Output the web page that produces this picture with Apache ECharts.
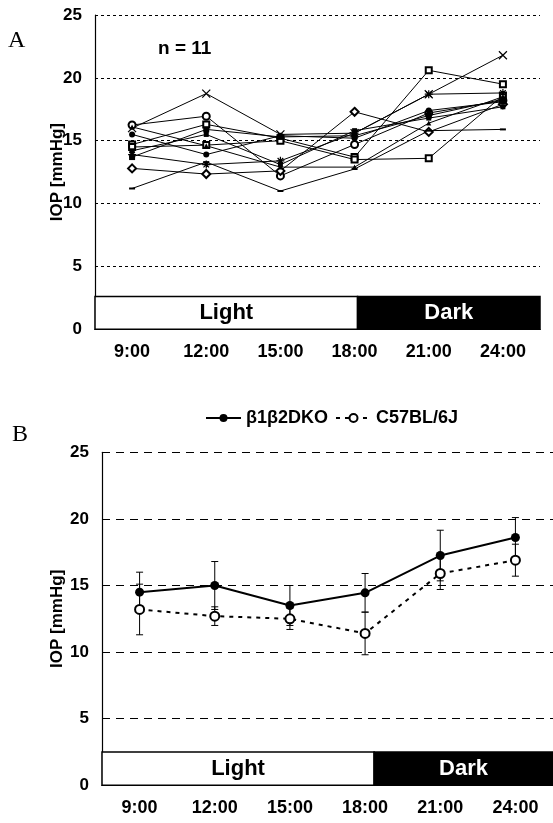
<!DOCTYPE html>
<html>
<head>
<meta charset="utf-8">
<script src="https://cdn.jsdelivr.net/npm/echarts@6/dist/echarts.min.js"></script>
<style>
  html, body { margin: 0; padding: 0; background: #fff; }
  #chart { width: 553px; height: 823px; }
</style>
</head>
<body>
<div id="chart"></div>
<script>
// time points (x categories)
const times = ['9:00', '12:00', '15:00', '18:00', '21:00', '24:00']

// panel A: individual eyes, n = 11 (IOP, mmHg)
const eyeCross = [16.0, 18.75, 15.5, 15.6, 18.7, 21.8]
const eyeCircle = [16.25, 16.95, 12.2, 14.7, 17.2, 18.2]
const eyeSquareA = [14.7, 16.3, 15.2, 13.7, 20.6, 19.5]
const eyeSquareB = [14.5, 14.65, 15.0, 13.5, 13.6, 18.6]
const eyeDiamond = [12.8, 12.35, 12.6, 17.3, 15.7, 17.9]
const eyeDash = [11.2, 13.3, 11.0, 12.75, 15.8, 15.9]
const eyeStar = [13.9, 13.1, 13.4, 15.6, 18.7, 18.8]
const eyeBlockA = [13.7, 15.9, 15.3, 15.4, 17.0, 18.3]
const eyeDot = [15.5, 13.9, 15.4, 15.2, 17.4, 18.1]
const eyeBlockB = [14.2, 15.5, 13.1, 15.8, 16.8, 17.7]
const eyeTriangle = [16.1, 14.6, 12.9, 12.9, 16.4, 18.5]

// panel B: mean and SD
const dkoMean = [14.5, 15.0, 13.5, 14.45, 17.25, 18.6]
const dkoSd = [1.5, 1.8, 1.5, 1.45, 1.9, 1.5]
const c57Mean = [13.2, 12.7, 12.5, 11.4, 15.9, 16.9]
const c57Sd = [1.9, 0.7, 0.8, 1.6, 1.2, 1.2]

// light / dark phase bars: [from, to, top] in category units
const phaseNames = ['Light', 'Dark']
const phasesA = [[-0.5, 3.04, 2.6], [3.04, 5.5, 2.6]]
const phasesB = [[-0.5, 3.12, 2.5], [3.12, 5.5, 2.5]]

const FONT = '"Liberation Sans", Arial, sans-serif'

const chart = echarts.init(document.getElementById('chart'))

// symbols
const crossPath = 'path://M0,0L10,10M10,0L0,10'
const starPath = 'path://M0,5L10,5M5,0L5,10M1.5,1.5L8.5,8.5M8.5,1.5L1.5,8.5'

const eyeSeries = [
  { data: eyeCross, symbol: crossPath, size: 8, stroke: true },
  { data: eyeCircle, symbol: 'emptyCircle', size: 7 },
  { data: eyeSquareA, symbol: 'emptyRect', size: 6 },
  { data: eyeSquareB, symbol: 'emptyRect', size: 6 },
  { data: eyeDiamond, symbol: 'emptyDiamond', size: 8 },
  { data: eyeDash, symbol: 'rect', size: [6, 2] },
  { data: eyeStar, symbol: starPath, size: 8, stroke: true },
  { data: eyeBlockA, symbol: 'rect', size: 6 },
  { data: eyeDot, symbol: 'circle', size: 6 },
  { data: eyeBlockB, symbol: 'rect', size: 5 },
  { data: eyeTriangle, symbol: 'triangle', size: 5 },
].map((e, i) => ({
  name: 'eye' + (i + 1),
  type: 'line',
  xAxisIndex: 0,
  yAxisIndex: 0,
  data: e.data,
  symbol: e.symbol,
  symbolSize: e.size,
  showAllSymbol: true,
  silent: true,
  z: 3,
  lineStyle: { color: '#000', width: 1 },
  itemStyle: e.stroke
    ? { color: '#000', borderColor: '#000', borderWidth: 1.2 }
    : { color: '#000' },
}))

// Light/Dark bar
const phaseRender = (params, api) => {
  const p0 = api.coord([api.value(0), api.value(2)])
  const p1 = api.coord([api.value(1), 0])
  const dark = params.dataIndex === 1
  return {
    type: 'group',
    children: [
      {
        type: 'rect',
        shape: { x: p0[0], y: p0[1], width: p1[0] - p0[0], height: p1[1] - p0[1] },
        style: { fill: dark ? '#000' : '#fff', stroke: '#000', lineWidth: 1.5 },
      },
      {
        type: 'text',
        style: {
          text: phaseNames[params.dataIndex],
          x: (p0[0] + p1[0]) / 2,
          y: (p0[1] + p1[1]) / 2,
          align: 'center',
          verticalAlign: 'middle',
          fill: dark ? '#fff' : '#000',
          font: 'bold 22px ' + FONT,
        },
      },
    ],
  }
}

// error bars
const errRender = (params, api) => {
  const lo = api.coord([api.value(0), api.value(1)])
  const hi = api.coord([api.value(0), api.value(2)])
  const w = 3.5
  const st = { stroke: '#000', lineWidth: 1 }
  return {
    type: 'group',
    children: [
      { type: 'line', shape: { x1: lo[0], y1: lo[1], x2: hi[0], y2: hi[1] }, style: st },
      { type: 'line', shape: { x1: lo[0] - w, y1: lo[1], x2: lo[0] + w, y2: lo[1] }, style: st },
      { type: 'line', shape: { x1: hi[0] - w, y1: hi[1], x2: hi[0] + w, y2: hi[1] }, style: st },
    ],
  }
}
const errData = (mean, sd) => mean.map((m, i) => [i, m - sd[i], m + sd[i]])

const yAxisBase = (gridIndex, dash, nameGap) => ({
  type: 'value',
  gridIndex,
  min: 0,
  max: 25,
  interval: 5,
  name: 'IOP [mmHg]',
  nameLocation: 'middle',
  nameRotate: 90,
  nameGap,
  nameMoveOverlap: false,
  nameTextStyle: { color: '#000', fontFamily: FONT, fontWeight: 'bold', fontSize: 17 },
  axisLine: { show: true, onZero: false, lineStyle: { color: '#000', width: 1.2 } },
  axisTick: { show: false },
  axisLabel: { color: '#000', fontFamily: FONT, fontWeight: 'bold', fontSize: 17, margin: 13 },
  splitLine: { show: true, lineStyle: { color: '#000', width: 1, type: dash } },
})

const xCatBase = (gridIndex) => ({
  type: 'category',
  gridIndex,
  data: times,
  boundaryGap: true,
  axisLine: { show: true, onZero: false, lineStyle: { color: '#000', width: 1.2 } },
  axisTick: { show: false },
  axisLabel: { color: '#000', fontFamily: FONT, fontWeight: 'bold', fontSize: 18, margin: 14 },
  splitLine: { show: false },
})

const xValBase = (gridIndex) => ({
  type: 'value',
  gridIndex,
  min: -0.5,
  max: 5.5,
  show: false,
  splitLine: { show: false },
})

const options = {
  animation: false,
  backgroundColor: '#fff',
  grid: [
    { left: 95, top: 15, width: 445, height: 314.3 },
    { left: 102, top: 452.3, width: 458, height: 333 },
  ],
  xAxis: [xCatBase(0), xValBase(0), xCatBase(1), xValBase(1)],
  yAxis: [yAxisBase(0, [3, 3], 29), yAxisBase(1, [8, 6], 36)],
  legend: {
    data: ['β1β2DKO', 'C57BL/6J'],
    left: 200,
    top: 404,
    itemWidth: 35,
    itemHeight: 10,
    itemGap: 7,
    textStyle: { color: '#000', fontFamily: FONT, fontWeight: 'bold', fontSize: 18 },
  },
  graphic: [
    { type: 'text', left: 8, top: 29, style: { text: 'A', font: '24px "Liberation Serif", "Times New Roman", serif', fill: '#000' } },
    { type: 'text', left: 12, top: 423, style: { text: 'B', font: '24px "Liberation Serif", "Times New Roman", serif', fill: '#000' } },
    { type: 'text', left: 158, top: 39, style: { text: 'n = 11', font: 'bold 19px ' + FONT, fill: '#000' } },
  ],
  series: [
    {
      type: 'custom',
      xAxisIndex: 1,
      yAxisIndex: 0,
      renderItem: phaseRender,
      data: phasesA,
      silent: true,
      z: 2,
    },
    ...eyeSeries,
    {
      type: 'custom',
      xAxisIndex: 3,
      yAxisIndex: 1,
      renderItem: phaseRender,
      data: phasesB,
      silent: true,
      z: 2,
    },
    {
      type: 'custom',
      xAxisIndex: 2,
      yAxisIndex: 1,
      renderItem: errRender,
      data: errData(dkoMean, dkoSd),
      silent: true,
      z: 3,
    },
    {
      type: 'custom',
      xAxisIndex: 2,
      yAxisIndex: 1,
      renderItem: errRender,
      data: errData(c57Mean, c57Sd),
      silent: true,
      z: 3,
    },
    {
      name: 'β1β2DKO',
      type: 'line',
      xAxisIndex: 2,
      yAxisIndex: 1,
      data: dkoMean,
      symbol: 'circle',
      symbolSize: 9,
      z: 5,
      lineStyle: { color: '#000', width: 2 },
      itemStyle: { color: '#000' },
    },
    {
      name: 'C57BL/6J',
      type: 'line',
      xAxisIndex: 2,
      yAxisIndex: 1,
      data: c57Mean,
      symbol: 'emptyCircle',
      symbolSize: 9,
      z: 5,
      lineStyle: { color: '#000', width: 2, type: [4, 5] },
      itemStyle: { color: '#000', borderWidth: 1 },
    },
  ],
}

chart.setOption(options)
</script>
</body>
</html>
